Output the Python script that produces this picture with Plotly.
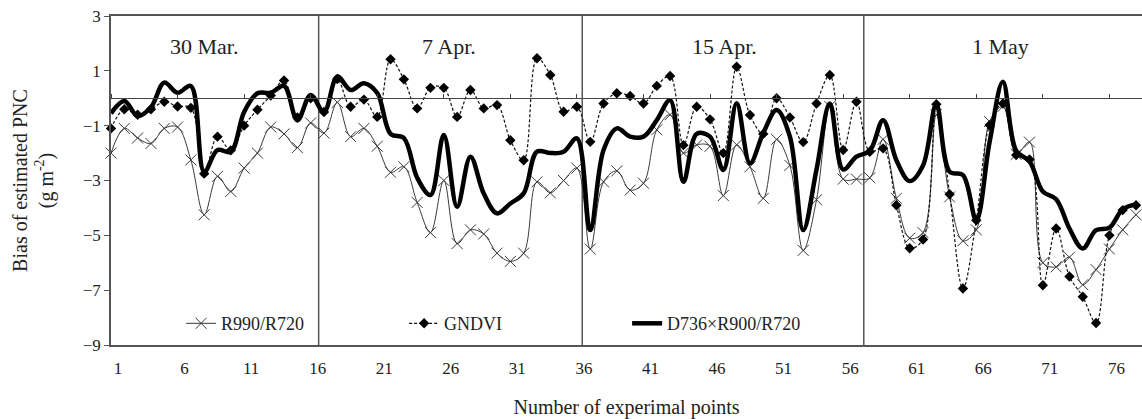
import plotly.graph_objects as go

# ---------------- data ----------------
points = list(range(1, 79))

r990_r720 = [
    -2.0, -1.1, -1.45, -1.65, -1.1, -1.05, -2.25, -4.25, -2.85, -3.4,
    -2.55, -2.0, -1.05, -1.3, -1.8, -0.9,
    -1.27, -0.15, -1.4, -1.1, -1.75, -2.7, -2.5, -3.8, -4.9, -3.0,
    -5.3, -4.8, -4.95, -5.65, -5.95, -5.65, -3.05, -3.45, -3.0, -2.55,
    -5.5, -3.05, -2.65, -3.35, -3.1, -1.15, -0.6, -2.0, -1.7, -1.75,
    -3.55, -1.7, -2.5, -3.65, -1.5, -2.45, -5.55, -3.7, -0.3, -2.95,
    -2.95, -2.9,
    -1.5, -3.65, -5.1, -4.9, -0.6, -3.6, -5.2, -4.8, -0.85, -0.3,
    -2.05, -1.6, -6.0, -6.15, -5.8, -6.8, -6.25, -5.5, -4.8, -4.25,
]

gndvi = [
    -1.1, -0.4, -0.6, -0.4, -0.13, -0.3, -0.35, -2.75, -1.4, -1.9,
    -1.0, -0.42, 0.1, 0.65, -0.7, 0.0,
    -0.5, 0.7, -0.31, -0.05, -0.68, 1.42, 0.69, -0.37, 0.38, 0.38,
    -0.68, 0.3, -0.37, -0.25, -1.53, -2.26, 1.46, 0.85, -0.49, -0.31,
    -1.59, -0.19, 0.18, 0.08, -0.19, 0.45, 0.81, -1.71, -0.31, -0.77,
    -2.0, 1.15, -0.61, -1.3, 0.0, -0.7, -1.6, -0.19, 0.85, -1.89,
    -0.13, -1.95,
    -1.83, -3.9, -5.47, -5.15, -0.22, -3.5, -6.94, -4.45, -0.98, -0.19,
    -2.07, -2.23, -6.82, -4.75, -6.5, -7.24, -8.2, -5.0, -4.08, -3.9,
]

d736 = [
    -0.55, -0.1, -0.65, -0.33, 0.57, 0.2, 0.45, -2.68, -1.89, -1.95,
    -0.5, 0.18, 0.2, 0.45, -0.8, 0.12,
    -0.5, 0.79, 0.3, 0.55, 0.19, -1.3, -1.45, -2.9, -3.53, -1.34,
    -3.96, -2.13, -3.47, -4.2, -3.84, -3.47, -1.95, -2.0, -1.95, -1.46,
    -4.81, -1.89, -1.1, -1.4, -1.4, -0.8, -0.07, -3.05, -1.3, -1.4,
    -2.62, -0.18, -2.37, -1.27, -0.43, -1.4, -4.81, -2.6, -0.19, -2.6,
    -2.13, -1.92,
    -0.8, -2.26, -3.02, -2.45, -0.22, -2.68, -2.8, -4.45, -1.6, 0.6,
    -1.92, -2.3, -3.4, -3.68, -4.75, -5.48, -4.81, -4.72, -4.05, -3.87,
]

x_ticks = [1, 6, 11, 16, 21, 26, 31, 36, 41, 46, 51, 56, 61, 66, 71, 76]
y_ticks = [3, 1, -1, -3, -5, -7, -9]

dates = ["30 Mar.", "7 Apr.", "15 Apr.", "1 May"]
date_label_x = [8.0, 26.4, 47.1, 67.8]
separators = [16.6, 36.4, 57.55]

FONT = "Liberation Serif"
X_RANGE = [1, 78.45]
Y_RANGE = [-9, 3]

fig = go.Figure()

fig.add_trace(go.Scatter(
    x=points, y=r990_r720, name="R990/R720", mode="lines+markers",
    line=dict(color="#3a3a3a", width=1, shape="spline", smoothing=1),
    marker=dict(symbol="x-thin-open", size=11, color="#3a3a3a",
                line=dict(width=1, color="#3a3a3a")),
    cliponaxis=False,
))
fig.add_trace(go.Scatter(
    x=points, y=gndvi, name="GNDVI", mode="lines+markers",
    line=dict(color="#111111", width=1.2, dash="3px,2px", shape="spline", smoothing=1),
    marker=dict(symbol="diamond", size=8, color="#000000"),
    cliponaxis=False,
))
fig.add_trace(go.Scatter(
    x=points, y=d736, name="D736×R900/R720", mode="lines",
    line=dict(color="#000000", width=4.5, shape="spline", smoothing=1),
    xaxis="x2", cliponaxis=False,
))

shapes = []
for s in separators:
    shapes.append(dict(type="line", xref="x", yref="y", x0=s, x1=s, y0=Y_RANGE[0], y1=Y_RANGE[1],
                       line=dict(color="#555555", width=1.5), layer="below"))

annotations = []
for lab, xp in zip(dates, date_label_x):
    annotations.append(dict(x=xp, y=1.87, xref="x", yref="y", text=lab, showarrow=False,
                            font=dict(family=FONT, size=22, color="#222222")))

fig.update_layout(
    width=1142, height=419,
    margin=dict(l=111, r=0, t=16, b=74),
    paper_bgcolor="white", plot_bgcolor="white",
    font=dict(family=FONT, color="#222222"),
    shapes=shapes, annotations=annotations,
    xaxis=dict(
        range=X_RANGE, tickmode="array", tickvals=x_ticks,
        ticktext=[str(t) for t in x_ticks],
        showline=True, mirror=True, linecolor="#555555", linewidth=1.5,
        ticks="", showgrid=False, zeroline=False,
        ticklabelstandoff=7, ticklabelshift=7,
        tickfont=dict(family=FONT, size=17, color="#222222"),
        title=dict(text="Number of experimal points", standoff=24,
                   font=dict(family=FONT, size=20, color="#222222")),
    ),
    xaxis2=dict(
        range=X_RANGE, overlaying="x", anchor="free", position=0.75, side="top",
        showline=True, linecolor="#444444", linewidth=1.2,
        ticks="outside", ticklen=4, tickcolor="#444444", tickvals=x_ticks,
        showticklabels=False, showgrid=False, zeroline=False,
    ),
    yaxis=dict(
        range=Y_RANGE, tickmode="array", tickvals=y_ticks,
        showline=True, mirror=False, linecolor="#555555", linewidth=1.5,
        ticks="outside", ticklen=5, tickcolor="#555555",
        showgrid=False, zeroline=False,
        tickfont=dict(family=FONT, size=17, color="#222222"),
        title=dict(text="Bias of estimated PNC<br>(g m<sup>-2</sup>)", standoff=24,
                   font=dict(family=FONT, size=20, color="#222222")),
    ),
    legend=dict(
        orientation="h", x=0.068, y=0.065, xanchor="left", yanchor="middle",
        entrywidth=178, entrywidthmode="pixels", bgcolor="rgba(0,0,0,0)",
        font=dict(family=FONT, size=18, color="#222222"),
    ),
)

fig.write_html("out.html", config={"displayModeBar": False},
               post_script="document.body.style.margin='0';document.body.style.padding='0';")
